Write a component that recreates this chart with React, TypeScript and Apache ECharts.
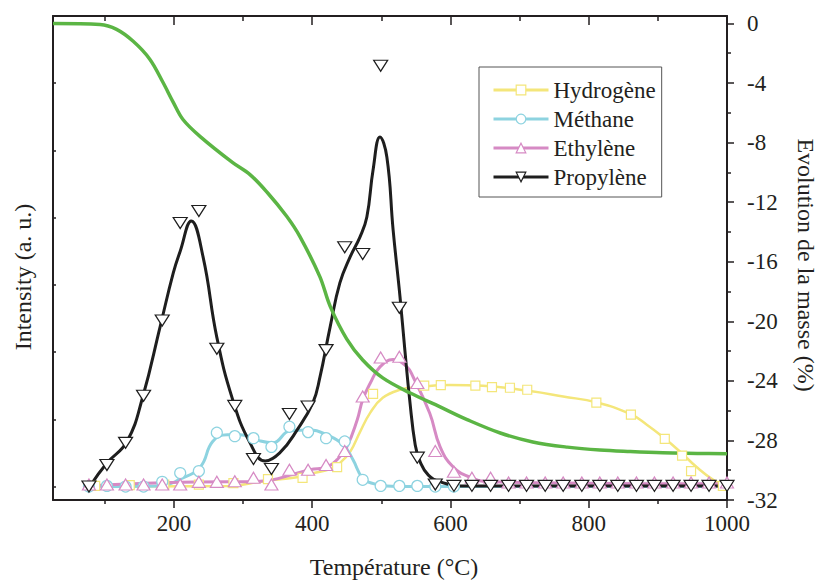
import React, { useEffect, useRef } from 'react';
import * as echarts from 'echarts';

const FONT = '"Liberation Serif", "Times New Roman", serif';
const TEXT = '#231f20';
const AXIS = '#231f20';

const C_H2 = '#F4E67A';
const C_CH4 = '#8DD3E0';
const C_C2H4 = '#D68AC4';
const C_C3H6 = '#1E1E1E';
const C_MASS = '#5BB544';

// Temperatures (°C) of the sampled points for propylene / methane / ethylene
const markerTemps = [77, 103, 130, 156, 183, 209, 236, 262, 288, 315, 341, 367, 394, 420, 447, 473, 499, 526, 552, 578, 605, 631, 658, 684, 710, 737, 763, 790, 816, 842, 869, 895, 922, 948, 974, 1000];

const propyleneMarks = [0.00, 0.32, 0.65, 1.35, 2.47, 3.92, 4.10, 2.05, 1.20, 0.41, 0.26, 1.08, 1.19, 2.03, 3.56, 3.46, 6.26, 2.66, 0.43, 0.03, 0.01, 0.01, 0.01, 0.01, 0.01, 0.01, 0.01, 0.01, 0.01, 0.01, 0.01, 0.01, 0.01, 0.01, 0.01, 0.01];
const methaneMarks = [0.00, 0.01, 0.00, 0.00, 0.07, 0.20, 0.23, 0.80, 0.75, 0.72, 0.59, 0.89, 0.81, 0.72, 0.67, 0.10, 0.01, 0.01, 0.01, 0.00, 0.00];
const ethyleneMarks = [0.03, 0.03, 0.03, 0.03, 0.03, 0.03, 0.07, 0.07, 0.08, 0.13, 0.03, 0.25, 0.25, 0.32, 0.53, 1.34, 1.92, 1.93, 1.54, 0.53, 0.22, 0.13, 0.13, 0.06, 0.06, 0.06, 0.06, 0.06, 0.06, 0.06, 0.06, 0.06, 0.06, 0.06, 0.06, 0.06];

const hydrogenTemps = [86, 136, 186, 236, 286, 336, 386, 436, 488, 562, 586, 636, 660, 686, 711, 811, 861, 910, 935, 948, 994];
const hydrogenMarks = [0.01, 0.02, 0.03, 0.03, 0.05, 0.11, 0.13, 0.29, 1.38, 1.50, 1.51, 1.50, 1.48, 1.47, 1.44, 1.25, 1.07, 0.71, 0.46, 0.23, 0.01];

// Fitted curves [T, intensity]
const propyleneCurve = [[78, 0], [103, 0.35], [132, 0.67], [155, 1.34], [180, 2.38], [199, 3.18], [209, 3.5], [225, 3.95], [242, 3.42], [262, 2.22], [285, 1.29], [310, 0.65], [332, 0.38], [353, 0.5], [378, 0.84], [401, 1.25], [411, 1.62], [426, 2.38], [440, 3.03], [455, 3.42], [469, 3.71], [479, 4.01], [488, 4.71], [498, 5.2], [508, 4.9], [517, 3.82], [527, 2.82], [534, 2.03], [541, 1.29], [549, 0.62], [556, 0.37], [568, 0.17], [585, 0.07], [614, 0.01], [1000, 0.01]];
const methaneCurve = [[78, 0], [180, 0.01], [209, 0.11], [238, 0.29], [256, 0.67], [277, 0.77], [296, 0.77], [324, 0.68], [343, 0.65], [368, 0.83], [397, 0.84], [421, 0.77], [445, 0.62], [459, 0.4], [473, 0.13], [494, 0.03], [523, 0], [1000, 0]];
const ethyleneCurve = [[78, 0.01], [281, 0.07], [310, 0.07], [343, 0.1], [368, 0.17], [397, 0.25], [421, 0.29], [436, 0.4], [450, 0.59], [465, 0.99], [473, 1.29], [484, 1.54], [498, 1.78], [517, 1.89], [537, 1.78], [546, 1.63], [570, 1.09], [585, 0.59], [604, 0.29], [628, 0.14], [657, 0.07], [1000, 0.04]];
const hydrogenCurve = [[78, 0], [281, 0.01], [329, 0.08], [378, 0.14], [401, 0.2], [426, 0.26], [440, 0.35], [455, 0.52], [469, 0.81], [484, 1.1], [502, 1.32], [527, 1.44], [552, 1.48], [599, 1.51], [647, 1.5], [715, 1.42], [763, 1.34], [812, 1.25], [860, 1.08], [884, 0.92], [907, 0.74], [932, 0.52], [956, 0.29], [980, 0.1], [1000, 0]];

// Mass evolution (%) [T, %]
const massCurve = [[25, 0], [93, -0.07], [117, -0.4], [141, -1.2], [165, -2.4], [184, -3.95], [199, -5.3], [213, -6.45], [238, -7.6], [285, -9.35], [310, -10.15], [335, -11.35], [363, -12.95], [382, -14.3], [411, -17.0], [426, -19.0], [450, -21.2], [473, -22.6], [502, -23.8], [541, -24.8], [585, -25.75], [624, -26.6], [672, -27.5], [719, -28.1], [769, -28.45], [816, -28.65], [860, -28.75], [907, -28.83], [957, -28.87], [1000, -28.9]];

const xMajorTicks = [200, 400, 600, 800, 1000];
const xMinorTicks = [100, 300, 500, 700, 900];
const intensityTicks = [0, 1, 2, 3, 4, 5, 6];
const massMajorTicks = [0, -4, -8, -12, -16, -20, -24, -28, -32];
const massMinorTicks = [-2, -6, -10, -14, -18, -22, -26, -30];

const zip = (xs: number[], ys: number[]) => ys.map((y, i) => [xs[i], y]);

export default function App() {
  const ref = useRef<HTMLDivElement>(null);
  useEffect(() => {
    if (!ref.current) return;
    const chart = echarts.init(ref.current, null, { renderer: 'svg' });
    const axisLine = { show: true, onZero: false, lineStyle: { color: AXIS, width: 2 } };
    const tickStyle = { color: AXIS, width: 1.5 };
    const xBase = { type: 'value', min: 25, max: 1000, splitLine: { show: false } };
    const lineS = (name: string, data: number[][], color: string, width: number, symbol: string, rotate = 0) => ({
      type: 'line', name, data, xAxisIndex: 0, yAxisIndex: 0,
      smooth: 0.45, showSymbol: false, symbol, symbolRotate: rotate,
      lineStyle: { color, width }, itemStyle: { color: '#fff', borderColor: color, borderWidth: 1.2 },
      silent: true, z: 2,
    });
    const markS = (name: string, data: number[][], color: string, symbol: string, size: any, rotate = 0) => ({
      type: 'scatter', name, data, xAxisIndex: 0, yAxisIndex: 0,
      symbol, symbolSize: size, symbolRotate: rotate,
      itemStyle: { color: '#fff', borderColor: color, borderWidth: 1.2, opacity: 1 },
      silent: true, z: 2,
    });
    const legendItem = (name: string, color: string) => ({
      name, itemStyle: { color: '#fff', borderColor: color, borderWidth: 1.2 }, lineStyle: { color, width: 3 },
    });
    const plain = (v: number) => String(v);
    chart.setOption({
      animation: false,
      backgroundColor: '#fff',
      grid: { left: 53, right: 93, top: 16, bottom: 83, containLabel: false, outerBoundsMode: 'none' },
      legend: {
        orient: 'vertical', left: 479, top: 67,
        padding: [11, 6, 8, 13], itemWidth: 55, itemHeight: 12, itemGap: 5,
        borderColor: '#555', borderWidth: 1, backgroundColor: '#fff',
        textStyle: { fontFamily: FONT, fontSize: 23, color: TEXT, lineHeight: 24 },
        data: [legendItem('Hydrogène', C_H2), legendItem('Méthane', C_CH4), legendItem('Ethylène', C_C2H4), legendItem('Propylène', C_C3H6)],
      },
      xAxis: [
        {
          ...xBase, position: 'bottom', name: 'Température (°C)', nameLocation: 'middle', nameGap: 55,
          nameTextStyle: { fontFamily: FONT, fontSize: 24, color: TEXT, padding: [0, 0, 0, 8] },
          axisLine, axisTick: { show: true, inside: false, length: 8, customValues: xMajorTicks, lineStyle: tickStyle },
          axisLabel: { show: true, customValues: xMajorTicks, formatter: plain, fontFamily: FONT, fontSize: 23, color: TEXT, margin: 12 },
        },
        {
          ...xBase, position: 'bottom', axisLine: { show: false, onZero: false },
          axisTick: { show: true, inside: false, length: 4, customValues: xMinorTicks, lineStyle: tickStyle },
          axisLabel: { show: false },
        },
        {
          ...xBase, position: 'top', axisLine,
          axisTick: { show: true, inside: true, length: 9, customValues: xMajorTicks, lineStyle: tickStyle },
          axisLabel: { show: false },
        },
        {
          ...xBase, position: 'top', axisLine: { show: false, onZero: false },
          axisTick: { show: true, inside: true, length: 5, customValues: xMinorTicks, lineStyle: tickStyle },
          axisLabel: { show: false },
        },
      ],
      yAxis: [
        {
          type: 'value', min: -0.2, max: 7, position: 'left',
          name: 'Intensity (a. u.)', nameLocation: 'middle', nameRotate: 90, nameGap: 18,
          nameTextStyle: { fontFamily: FONT, fontSize: 24, color: TEXT, padding: [0, 38, 0, 0] },
          axisLine, splitLine: { show: false },
          axisTick: { show: true, inside: true, length: 3, customValues: intensityTicks, lineStyle: tickStyle },
          axisLabel: { show: false },
        },
        {
          type: 'value', min: -32, max: 0.5, position: 'right',
          name: 'Evolution de la masse (%)', nameLocation: 'middle', nameRotate: -90, nameGap: 67,
          nameTextStyle: { fontFamily: FONT, fontSize: 24, color: TEXT, padding: [0, 0, 0, 14] },
          axisLine, splitLine: { show: false },
          axisTick: { show: true, inside: false, length: 7, customValues: massMajorTicks, lineStyle: tickStyle },
          axisLabel: { show: true, customValues: massMajorTicks, formatter: plain, fontFamily: FONT, fontSize: 23, color: TEXT, margin: 20, align: 'left' },
        },
        {
          type: 'value', min: -32, max: 0.5, position: 'right',
          axisLine: { show: false, onZero: false }, splitLine: { show: false },
          axisTick: { show: true, inside: false, length: 4, customValues: massMinorTicks, lineStyle: tickStyle },
          axisLabel: { show: false },
        },
      ],
      series: [
        lineS('Hydrogène', hydrogenCurve, C_H2, 2.5, 'rect'),
        markS('Hydrogène (points)', zip(hydrogenTemps, hydrogenMarks), C_H2, 'rect', 9),
        lineS('Méthane', methaneCurve, C_CH4, 3, 'circle'),
        markS('Méthane (points)', zip(markerTemps, methaneMarks), C_CH4, 'circle', 11),
        lineS('Ethylène', ethyleneCurve, C_C2H4, 3, 'triangle'),
        markS('Ethylène (points)', zip(markerTemps, ethyleneMarks), C_C2H4, 'triangle', [13, 11]),
        lineS('Propylène', propyleneCurve, C_C3H6, 3, 'triangle', 180),
        markS('Propylène (points)', zip(markerTemps, propyleneMarks), C_C3H6, 'triangle', [14, 11], 180),
        {
          type: 'line', name: 'Masse', data: massCurve, xAxisIndex: 0, yAxisIndex: 1,
          smooth: 0.35, showSymbol: false, symbol: 'none',
          lineStyle: { color: C_MASS, width: 3.5 }, silent: true, z: 2,
        },
      ],
    });
    return () => chart.dispose();
  }, []);
  return <div ref={ref} style={{ position: 'fixed', left: 0, top: 0, width: 820, height: 583, background: '#fff' }} />;
}
